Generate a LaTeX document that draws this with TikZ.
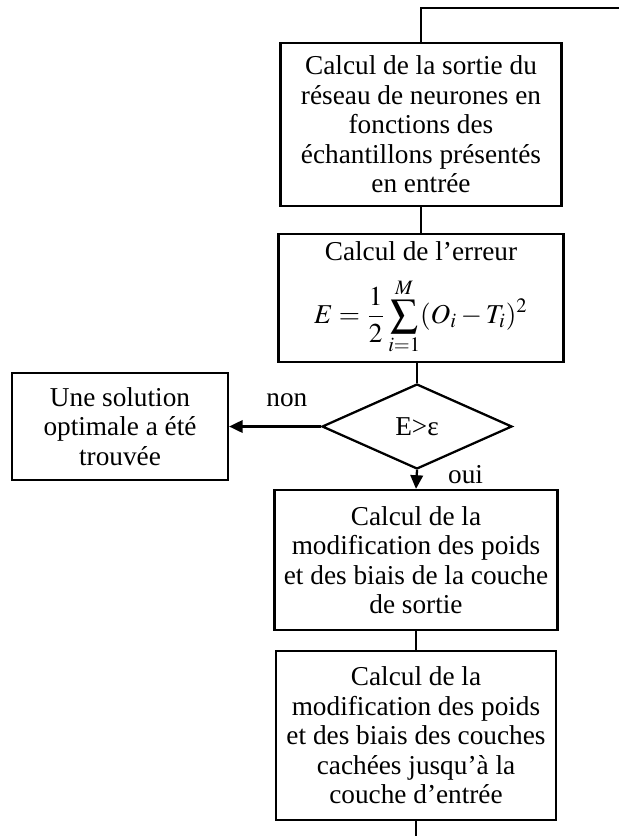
\documentclass[tikz,border=0pt]{standalone}
\usepackage{mathptmx}
\usepackage[no-math]{fontspec}
\setmainfont{Liberation Serif}
\usetikzlibrary{shapes.geometric, arrows.meta}

\begin{document}
\begin{tikzpicture}[x=0.44pt, y=-0.44pt, >={Triangle[length=6pt, width=5.5pt]}, line width=1pt,
    font=\fontsize{12pt}{13pt}\selectfont,
    box/.style={draw, rectangle, align=center, inner sep=0pt},
    test/.style={draw, diamond, aspect=2.2, inner sep=0pt}]
    \useasboundingbox (0,0) rectangle (619,836);

    \node[box, minimum width=123.6pt, minimum height=71.7pt] (sortie) at (421, 124.5) {Calcul de la sortie du\\ réseau de neurones en\\ fonctions des\\ échantillons présentés\\ en entrée};
    \node[box, minimum width=125.4pt, minimum height=56.3pt] (erreur) at (421, 298) {Calcul de l'erreur\\[7pt] $\displaystyle E=\frac{1}{2}\sum_{i=1}^{M}(O_i-T_i)^2$};
    \node[test, minimum width=83.6pt, minimum height=37.4pt] (compare) at (417, 426.5) {E>ε};
    \node[box, minimum width=95pt, minimum height=47.1pt] (solution) at (120, 426.5) {Une solution\\ optimale a été\\ trouvée};
    \node[box, minimum width=124.5pt, minimum height=61.6pt] (modsortie) at (416, 560) {Calcul de la\\ modification des poids\\ et des biais de la couche\\ de sortie};
    \node[box, minimum width=123.2pt, minimum height=74.4pt] (modcachees) at (416, 735.5) {Calcul de la\\ modification des poids\\ et des biais des couches\\ cachées jusqu'à la\\ couche d'entrée};

    \coordinate (retour) at (619, 8);
    \coordinate (fin) at (416, 836);

    \draw (retour) -| (sortie.north);
    \draw (sortie.south) -- (erreur.north);
    \draw (compare.north |- erreur.south) -- (compare.north);
    \draw[->] (compare.west) -- node[pos=0.37, above=5pt] {non} (solution.east);
    \draw[->] (compare.south) -- node[pos=0.25, right=10pt] {oui} (modsortie.north);
    \draw (modsortie.south) -- (modcachees.north);
    \draw (modcachees.south) -- (fin);
\end{tikzpicture}
\end{document}
